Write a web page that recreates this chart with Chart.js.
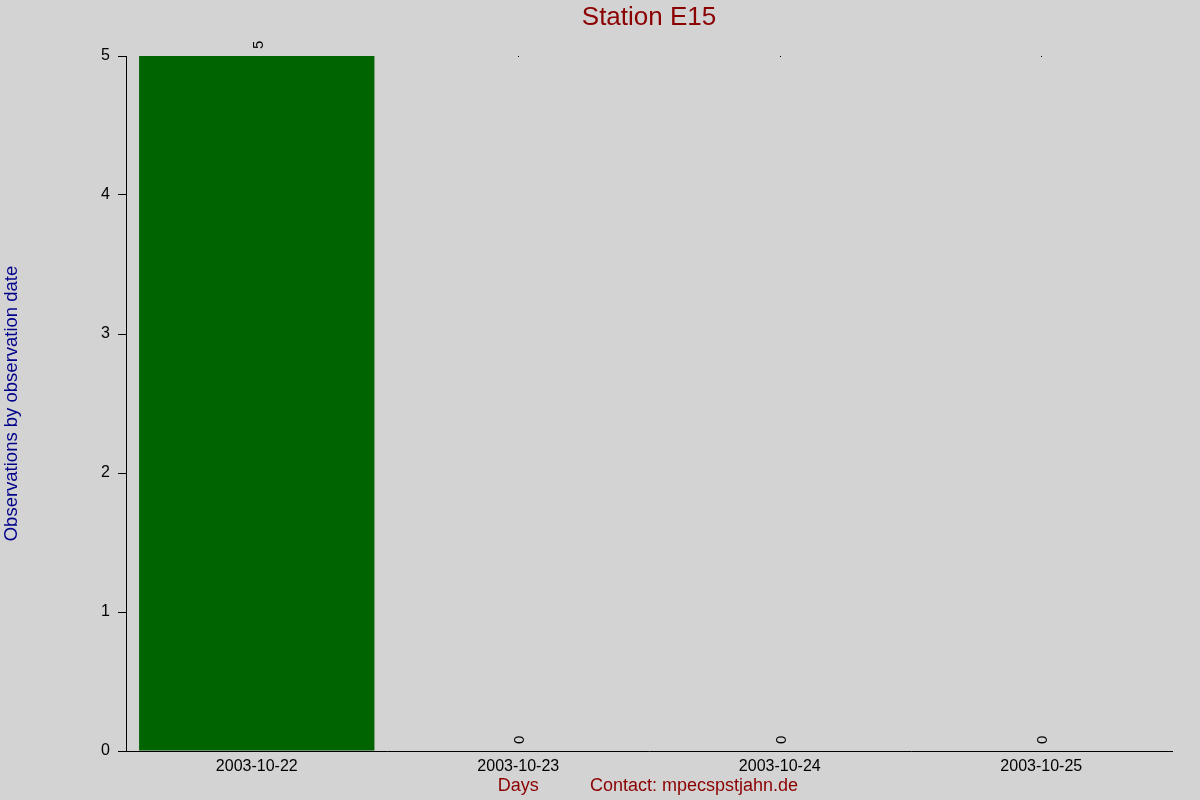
<script src="https://cdn.jsdelivr.net/npm/chart.js@4"></script>
<style>
  html, body { margin: 0; padding: 0; background: #d3d3d3; }
  #wrap { width: 1200px; height: 800px; }
</style>
<div id="wrap">
    <canvas id="stationChart" width="1200" height="800"></canvas>
</div>
<script>
    var days = ['2003-10-22', '2003-10-23', '2003-10-24', '2003-10-25'];
    var observations = [5, 0, 0, 0];
    var yTicks = [0, 1, 2, 3, 4, 5];

    var titleText = 'Station E15';
    var yTitle = 'Observations by observation date';
    var xTitle = 'Days';
    var contactText = 'Contact: mpecspstjahn.de';

    var FONT = '"Liberation Sans", Arial, sans-serif';

    // bar value labels, axis titles and heading
    var textPlugin = {
        id: 'stationText',
        afterDatasetsDraw: function (chart) {
            var ctx = chart.ctx;
            var xs = chart.scales.x, ys = chart.scales.y;
            var area = chart.chartArea;
            var meta = chart.getDatasetMeta(0);
            ctx.save();
            ctx.fillStyle = '#000';
            ctx.font = '15px ' + FONT;
            meta.data.forEach(function (bar, i) {
                var v = observations[i];
                ctx.save();
                ctx.translate(bar.x + 6, bar.y - 7);
                ctx.rotate(-Math.PI / 2);
                ctx.textAlign = 'left';
                ctx.textBaseline = 'alphabetic';
                ctx.fillText(String(v), 0, 0);
                ctx.restore();
                if (v === 0) {
                    ctx.fillRect(Math.round(bar.x), ys.getPixelForValue(ys.max), 1, 1);
                }
            });

            ctx.textAlign = 'center';
            ctx.textBaseline = 'middle';
            ctx.fillStyle = '#8b0000';
            ctx.font = '26px ' + FONT;
            ctx.fillText(titleText, (area.left + area.right) / 2, 18);

            ctx.font = '18px ' + FONT;
            ctx.fillText(xTitle, xs.getPixelForValue(1), 786);
            ctx.textAlign = 'left';
            ctx.fillText(contactText, 590, 786);

            ctx.save();
            ctx.fillStyle = '#00008b';
            ctx.font = '18.5px ' + FONT;
            ctx.translate(12, (area.top + area.bottom) / 2);
            ctx.rotate(-Math.PI / 2);
            ctx.textAlign = 'center';
            ctx.fillText(yTitle, 0, 0);
            ctx.restore();
            ctx.restore();
        }
    };

    var chart = new Chart('stationChart', {
        type: 'bar',
        data: {
            labels: days,
            datasets: [{
                data: observations,
                backgroundColor: '#006400',
                borderWidth: 0,
                barPercentage: 0.9,
                categoryPercentage: 1.0
            }]
        },
        options: {
            responsive: false,
            animation: false,
            layout: { padding: { top: 56, right: 28, left: 0, bottom: 0 } },
            plugins: {
                legend: { display: false },
                title: { display: false },
                tooltip: { enabled: false }
            },
            scales: {
                x: {
                    grid: { display: false, drawTicks: false },
                    border: { color: '#000', width: 1 },
                    ticks: { color: '#000', font: { family: FONT, size: 16 }, padding: 6, maxRotation: 0 },
                    afterFit: function (s) { s.height = 49; }
                },
                y: {
                    min: 0,
                    max: 5,
                    afterBuildTicks: function (s) {
                        s.ticks = yTicks.map(function (v) { return { value: v }; });
                    },
                    grid: { drawOnChartArea: false, drawTicks: true, tickLength: 8, tickColor: '#000' },
                    border: { color: '#000', width: 1 },
                    ticks: { color: '#000', font: { family: FONT, size: 16 }, padding: 8 },
                    afterFit: function (s) { s.width = 126; }
                }
            }
        },
        plugins: [textPlugin]
    });
</script>
